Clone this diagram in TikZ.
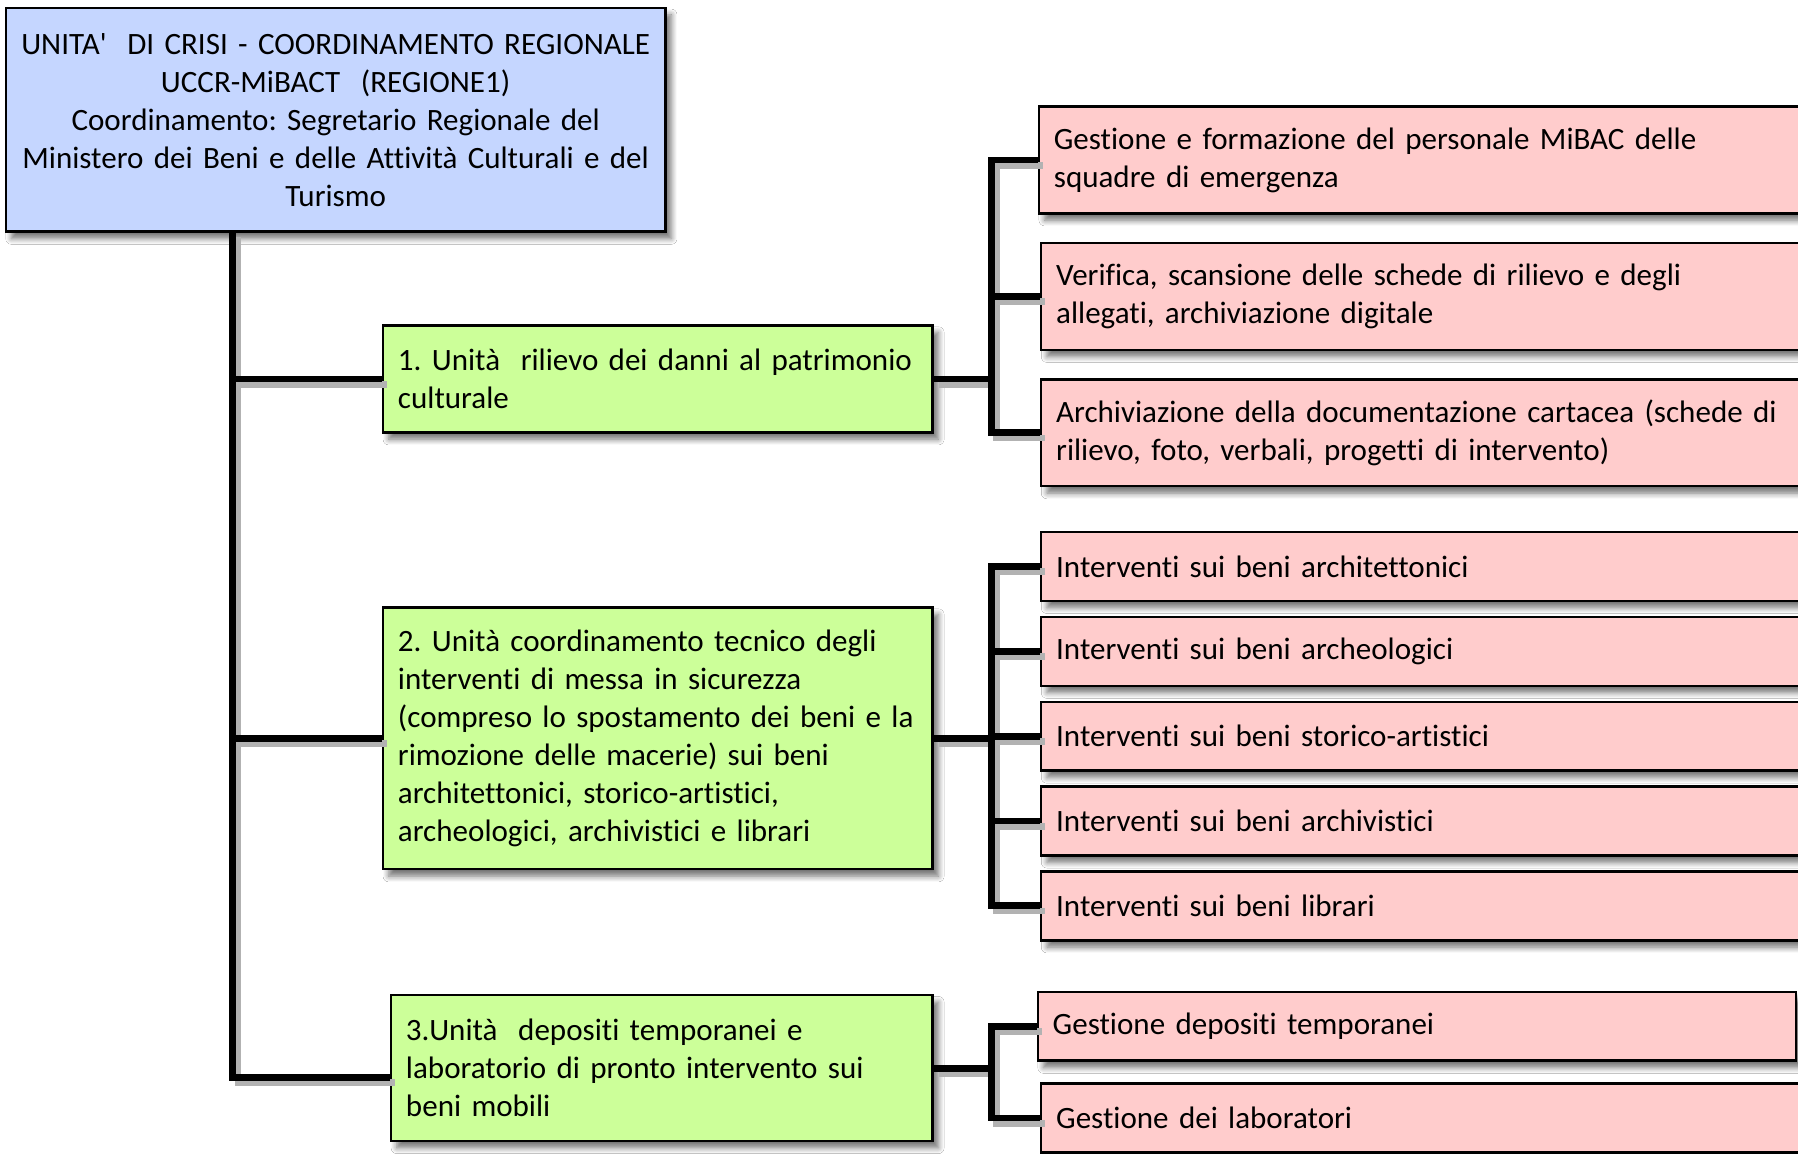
\documentclass[tikz,border=0pt]{standalone}
\usepackage{fontspec}
\setmainfont{Carlito}[Ligatures={TeXOff,NoCommon}]
\usetikzlibrary{shadows.blur}
\definecolor{headblue}{RGB}{197,214,255}
\definecolor{unitgreen}{RGB}{204,255,153}
\definecolor{taskpink}{RGB}{255,204,204}
\newcommand\orglinks{%
  \draw (t0) |- ([yshift=-0.08cm]u3.west);
  \draw (t0 |- u1.west) -- (u1.west);
  \draw (t0 |- u2.west) -- (u2.west);
  \draw (u1.east) -- (b1);
  \draw (r1.west) -| (b1) |- (r3.west);
  \draw (b1 |- r2.west) -- (r2.west);
  \draw (u2.east) -- (b2);
  \draw (r4.west) -| (b2) |- (r8.west);
  \draw (b2 |- r5.west) -- (r5.west);
  \draw (b2 |- r6.west) -- (r6.west);
  \draw (b2 |- r7.west) -- (r7.west);
  \draw (u3.east) -- (b3);
  \draw (r9.west) -| (b3) |- (r10.west);
}
\begin{document}
\frenchspacing
\begin{tikzpicture}[x=0.01cm, y=-0.01cm,
    box/.style={draw=black, line width=0.6pt, anchor=west, inner xsep=0.13cm, inner ysep=0pt,
      blur shadow={shadow xshift=0.05cm, shadow yshift=-0.06cm, shadow blur radius=0.05cm,
        shadow blur steps=6, shadow opacity=55},
      font=\fontsize{7.7pt}{9.4pt}\selectfont},
    head/.style={box, fill=headblue, align=center, text width=5.49cm},
    unit/.style={box, fill=unitgreen, align=left, text width=4.53cm},
    task/.style={box, fill=taskpink, align=left, text width=6.42cm},
    link/.style={line width=1.7pt, draw=black},
    linkshade/.style={line width=1.7pt, draw=black!30}]
  \path[use as bounding box, fill=white] (0,0) rectangle (1568,1006);
  \node[head, minimum height=1.95cm] (uccr) at (4,104.5) {UNITA'~ DI CRISI - COORDINAMENTO REGIONALE\\
    UCCR-MiBACT~ (REGIONE1)\\Coordinamento: Segretario Regionale del\\
    Ministero dei Beni e delle Attività Culturali e del\\Turismo};
  \node[unit, minimum height=0.93cm] (u1) at (333,330.5) {1. Unità~ rilievo dei danni al patrimonio\\culturale};
  \node[unit, minimum height=2.28cm] (u2) at (333,644) {2. Unità coordinamento tecnico degli\\
    interventi di messa in sicurezza\\(compreso lo spostamento dei beni e la\\
    rimozione delle macerie) sui beni\\architettonici, storico-artistici,\\
    archeologici, archivistici e librari};
  \node[unit, minimum height=1.27cm, text width=4.46cm] (u3) at (340,931.5) {3.Unità~ depositi temporanei e\\
    laboratorio di pronto intervento sui\\beni mobili};
  \node[task, minimum height=0.93cm] (r1) at (905,139.5) {Gestione e formazione del personale MiBAC delle\\squadre di emergenza};
  \node[task, minimum height=0.93cm] (r2) at (907,258.5) {Verifica, scansione delle schede di rilievo e degli\\allegati, archiviazione digitale};
  \node[task, minimum height=0.93cm] (r3) at (907,377.5) {Archiviazione della documentazione cartacea (schede di\\rilievo, foto, verbali, progetti di intervento)};
  \node[task, minimum height=0.6cm] (r4) at (907,494) {Interventi sui beni architettonici};
  \node[task, minimum height=0.6cm] (r5) at (907,568) {Interventi sui beni archeologici};
  \node[task, minimum height=0.6cm] (r6) at (907,642) {Interventi sui beni storico-artistici};
  \node[task, minimum height=0.6cm] (r7) at (907,716) {Interventi sui beni archivistici};
  \node[task, minimum height=0.6cm] (r8) at (907,790) {Interventi sui beni librari};
  \node[task, minimum height=0.6cm, text width=6.35cm] (r9) at (904,895) {Gestione depositi temporanei};
  \node[task, minimum height=0.6cm] (r10) at (907,975) {Gestione dei laboratori};
  \coordinate (t0) at (203,202);
  \coordinate (b1) at ([xshift=0.5cm]u1.east);
  \coordinate (b2) at ([xshift=0.5cm]u2.east);
  \coordinate (b3) at ([xshift=0.5cm]u3.east);
  \begin{scope}[linkshade, transform canvas={shift={(0.045cm,-0.045cm)}}]
    \orglinks
  \end{scope}
  \begin{scope}[link]
    \orglinks
  \end{scope}
\end{tikzpicture}
\end{document}
